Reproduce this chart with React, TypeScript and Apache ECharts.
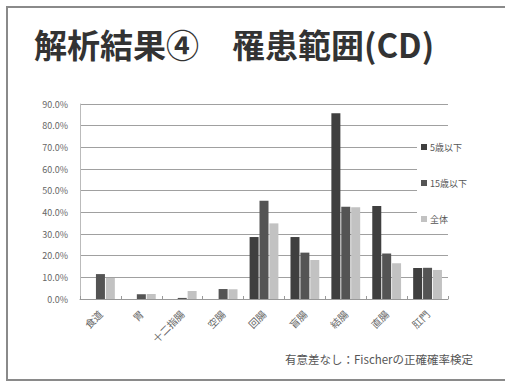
import React, { useEffect, useRef } from "react";
import * as echarts from "echarts";

const categories = ["食道", "胃", "十二指腸", "空腸", "回腸", "盲腸", "結腸", "直腸", "肛門"];
const seriesNames = ["5歳以下", "15歳以下", "全体"];
const under5 = [0, 0, 0, 0, 28.6, 28.6, 85.7, 42.9, 14.3];
const under15 = [11.5, 2.2, 0.5, 4.6, 45.4, 21.4, 42.6, 21.0, 14.4];
const overall = [9.7, 2.3, 3.7, 4.5, 34.9, 18.0, 42.3, 16.5, 13.4];
const yMax = 90;
const yInterval = 10;
const titleText = "解析結果④　罹患範囲(CD)";
const noteText = "有意差なし：Fischerの正確確率検定";

const colors = ["#3f3f3f", "#545454", "#c2c2c2"];
const FONT = "'Noto Sans CJK JP', 'Noto Sans', sans-serif";

export default function App() {
  const ref = useRef<HTMLDivElement>(null);
  useEffect(() => {
    if (!ref.current) return;
    const chart = echarts.init(ref.current, undefined, { renderer: "svg" });
    const data = [under5, under15, overall];
    chart.setOption({
      animation: false,
      backgroundColor: "#fff",
      textStyle: { fontFamily: FONT },
      grid: { left: 80, right: 57, top: 104, bottom: 83, containLabel: false },
      legend: {
        orient: "vertical",
        left: 417,
        top: 137,
        padding: [3, 6, 3, 4],
        backgroundColor: "#fff",
        itemWidth: 6,
        itemHeight: 6,
        itemGap: 22,
        icon: "rect",
        textStyle: { fontSize: 9, lineHeight: 14, color: "#555", fontFamily: FONT, padding: [0, 0, 0, -2] },
        data: seriesNames,
      },
      xAxis: {
        type: "category",
        data: categories,
        axisLine: { lineStyle: { color: "#999", width: 1 } },
        axisTick: { show: true, alignWithLabel: false, length: 3, inside: true, lineStyle: { color: "#999" } },
        axisLabel: { rotate: 45, fontSize: 10, color: "#666", margin: 13, fontFamily: FONT },
      },
      yAxis: {
        type: "value",
        min: 0,
        max: yMax,
        interval: yInterval,
        axisLine: { show: true, lineStyle: { color: "#bbb" } },
        axisTick: { show: false },
        axisLabel: {
          fontSize: 9,
          color: "#666",
          margin: 12,
          formatter: (v: number) => v.toFixed(1) + "%",
        },
        splitLine: { lineStyle: { color: "#a0a0a0", width: 1 } },
      },
      series: seriesNames.map((name, i) => ({
        name,
        type: "bar",
        data: data[i],
        barWidth: 9,
        barGap: "10%",
        itemStyle: { color: colors[i] },
      })),
      graphic: [
        {
          type: "rect",
          shape: { x: 7, y: 7, width: 520, height: 373 },
          style: { fill: "none", stroke: "#8a8a8a", lineWidth: 2 },
          silent: true,
        },
        {
          type: "text",
          left: 34,
          top: 27,
          style: {
            text: titleText,
            font: `bold 33px ${FONT}`,
            fill: "#333",
          },
        },
        {
          type: "text",
          left: 285,
          top: 353,
          style: {
            text: noteText,
            font: `11.5px ${FONT}`,
            fill: "#555",
          },
        },
      ],
    });
    return () => chart.dispose();
  }, []);
  return (
    <div
      ref={ref}
      style={{ position: "fixed", left: 0, top: 0, width: 505, height: 382, background: "#fff" }}
    />
  );
}
